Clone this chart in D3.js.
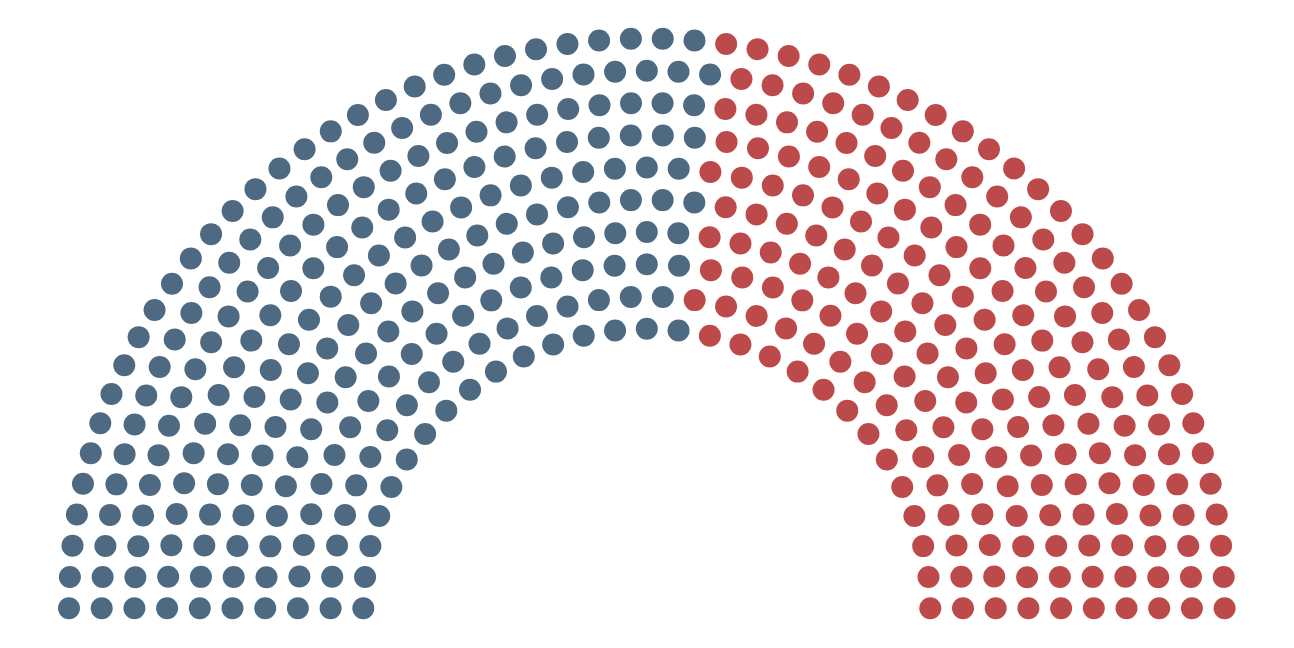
<!DOCTYPE html>
<html>
<head>
<meta charset="utf-8">
<script src="https://cdn.jsdelivr.net/npm/d3@7"></script>
<style>
  html, body { margin: 0; padding: 0; background: #ffffff; }
  svg { display: block; }
</style>
</head>
<body>
<div id="chart"></div>
<script>
// ---- Data ----
const parties = ["Blue party", "Red party"];
const seats = [235, 200];
const partyColors = ["#4e6a82", "#bd4a4a"];
// seats in each arc, from the innermost row to the outermost row
const seatsPerRow = [29, 32, 35, 39, 42, 45, 48, 52, 55, 58];

// ---- Layout ----
const width = 1294, height = 648;
const cx = 646.8, cy = 608.3;
const outerR = 577.8, innerR = 283.5;
const yRatio = 0.986;
const dotR = 11;

const svg = d3.select("#chart").append("svg")
  .attr("width", width).attr("height", height);

// unit-space scales
const xScale = d3.scaleLinear().domain([-1, 1]).range([cx - outerR, cx + outerR]);
const yScale = d3.scaleLinear().domain([0, 1]).range([cy, cy - outerR * yRatio]);
const rowScale = d3.scaleLinear().domain([0, seatsPerRow.length - 1]).range([innerR / outerR, 1]);

// Build slots
const slots = [];
seatsPerRow.forEach((n, i) => {
  const r = rowScale(i);
  const angleScale = d3.scaleLinear().domain([0, n - 1]).range([0, Math.PI]);
  for (let k = 0; k < n; k++) {
    const t = angleScale(k); // 0 = left, PI = right
    slots.push({ row: i, t: t, ux: -r * Math.cos(t), uy: r * Math.sin(t) });
  }
});
slots.sort((a, b) => a.t - b.t || a.row - b.row);

// assign parties in order of angle
const partyOf = [];
parties.forEach((p, pi) => { for (let s = 0; s < seats[pi]; s++) partyOf.push(pi); });
slots.forEach((s, i) => { s.party = partyOf[i] !== undefined ? partyOf[i] : parties.length - 1; });

const color = d3.scaleOrdinal().domain(d3.range(parties.length)).range(partyColors);

svg.append("g").selectAll("circle")
  .data(slots)
  .join("circle")
  .attr("cx", d => xScale(d.ux))
  .attr("cy", d => yScale(d.uy))
  .attr("r", dotR)
  .attr("fill", d => color(d.party))
  .append("title").text(d => parties[d.party]);
</script>
</body>
</html>
